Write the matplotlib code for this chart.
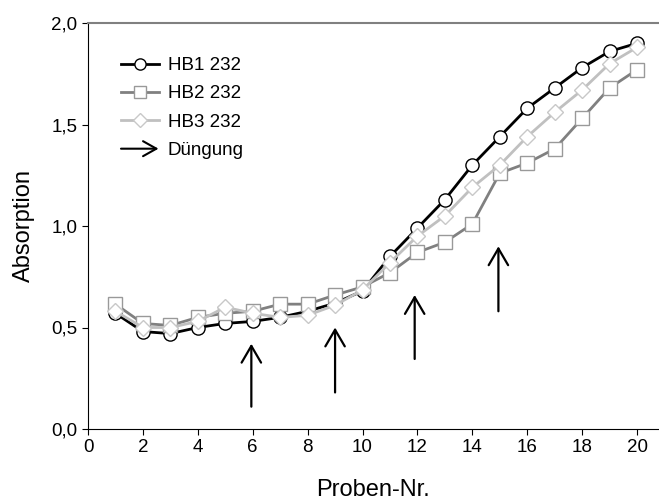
import matplotlib.pyplot as plt
import numpy as np
from matplotlib.legend_handler import HandlerBase
from matplotlib.patches import FancyArrowPatch
from matplotlib.ticker import FuncFormatter

plt.rcParams['font.family'] = ['Liberation Sans', 'DejaVu Sans']

proben = np.arange(1, 21)
hb1 = [0.57, 0.48, 0.47, 0.50, 0.52, 0.53, 0.55, 0.58, 0.62, 0.68,
       0.85, 0.99, 1.13, 1.30, 1.44, 1.58, 1.68, 1.78, 1.86, 1.90]
hb2 = [0.615, 0.52, 0.51, 0.55, 0.57, 0.58, 0.615, 0.615, 0.66, 0.70,
       0.77, 0.87, 0.92, 1.01, 1.26, 1.31, 1.38, 1.53, 1.68, 1.77]
hb3 = [0.58, 0.50, 0.50, 0.53, 0.60, 0.57, 0.55, 0.56, 0.61, 0.685,
       0.82, 0.95, 1.05, 1.19, 1.30, 1.44, 1.56, 1.67, 1.80, 1.88]

# Düngung: x-Position, Pfeil von y0 nach y1
dueng_x = [5.95, 9.0, 11.9, 14.95]
dueng_y0 = [0.11, 0.18, 0.345, 0.58]
dueng_y1 = [0.42, 0.50, 0.66, 0.90]


class ArrowHandler(HandlerBase):
    def create_artists(self, legend, orig_handle, xdescent, ydescent,
                       width, height, fontsize, trans):
        y = height / 2 - ydescent
        a = FancyArrowPatch((-xdescent, y), (width - xdescent, y),
                            arrowstyle='->,head_length=0.8,head_width=0.45',
                            mutation_scale=12, color='black', lw=1.5,
                            transform=trans, shrinkA=0, shrinkB=0)
        return [a]


fig = plt.figure(figsize=(6.59, 5.04), dpi=100)
ax = fig.add_axes([88 / 659, 75 / 504, 1 - 88 / 659, 406 / 504])

l1, = ax.plot(proben, hb1, '-o', color='black', lw=2, ms=9.5,
              mfc='white', mec='black', mew=1, label='HB1 232')
l2, = ax.plot(proben, hb2, '-s', color='#808080', lw=2, ms=9.5,
              mfc='white', mec='#999999', mew=1, label='HB2 232')
l3, = ax.plot(proben, hb3, '-D', color='#c0c0c0', lw=2, ms=8,
              mfc='white', mec='#c8c8c8', mew=1, label='HB3 232')

for x, y0, y1 in zip(dueng_x, dueng_y0, dueng_y1):
    ax.annotate('', xy=(x, y1), xytext=(x, y0),
                arrowprops=dict(arrowstyle='->,head_length=1.2,head_width=0.7',
                                color='black', lw=1.6,
                                shrinkA=0, shrinkB=0))

arrow_dummy = object()
ax.legend([l1, l2, l3, arrow_dummy], ['HB1 232', 'HB2 232', 'HB3 232', 'Düngung'],
          handler_map={arrow_dummy: ArrowHandler()},
          loc='upper left', bbox_to_anchor=(121 / 659, 1 - 57 / 504),
          bbox_transform=fig.transFigure, borderaxespad=0, borderpad=0,
          frameon=False, fontsize=13.5, labelspacing=0.6, handlelength=2.0,
          handletextpad=0.5, markerscale=0.85)

ax.set_xlim(0, 20.8)
ax.set_ylim(0, 2.0)
ax.set_xticks(range(0, 21, 2))
ax.set_yticks([0, 0.5, 1.0, 1.5, 2.0])
ax.yaxis.set_major_formatter(FuncFormatter(lambda v, p: f'{v:.1f}'.replace('.', ',')))
ax.tick_params(direction='out', length=4, labelsize=13.5)

ax.spines['right'].set_visible(False)
ax.spines['top'].set_color('#808080')
ax.spines['top'].set_linewidth(1.5)

ax.set_xlabel('Proben-Nr.', fontsize=17, labelpad=16)
ax.set_ylabel('Absorption', fontsize=17, labelpad=12)

fig.savefig('out.png', dpi=100)
